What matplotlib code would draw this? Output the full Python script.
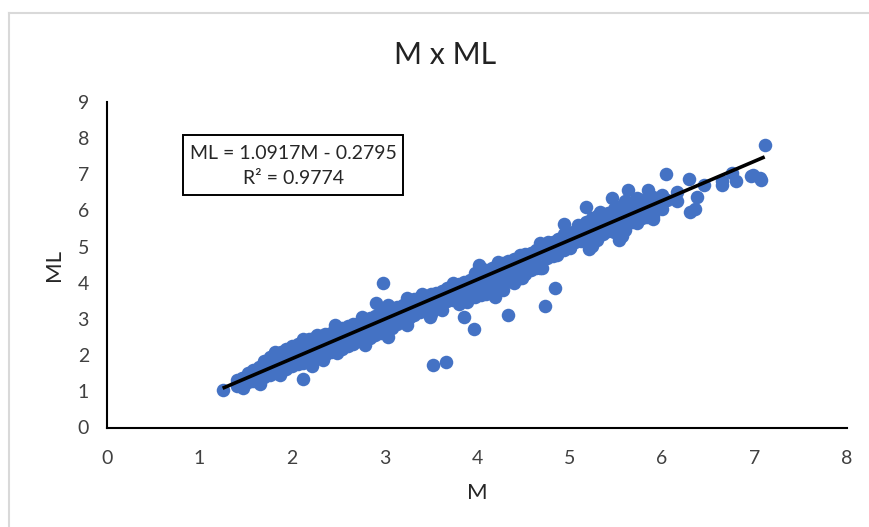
import matplotlib
matplotlib.use('Agg')
import matplotlib.pyplot as plt
from matplotlib.lines import Line2D
from matplotlib.patches import Rectangle

plt.rcParams['font.family'] = ['Lato', 'DejaVu Sans']

# Points
# lone points away from the main band
outlier_m = [1.25, 2.12, 2.98, 3.52, 3.67, 3.86, 3.97, 4.33, 4.73, 4.84, 6.04, 7.11]
outlier_ml = [1.04, 1.34, 3.99, 1.73, 1.81, 3.05, 2.72, 3.11, 3.36, 3.85, 7.00, 7.80]

# scattered points at the sparse top end
top_m = [5.18, 5.46, 5.63, 5.85, 6.00, 6.16, 6.16, 6.29, 6.30, 6.36, 6.38, 6.45, 6.65, 6.65,
         6.76, 6.80, 6.96, 6.98, 7.06, 7.07, 5.21, 5.54, 5.57, 5.90, 6.00, 4.94]
top_ml = [6.09, 6.34, 6.58, 6.58, 6.42, 6.50, 6.25, 6.86, 5.95, 6.03, 6.37, 6.70, 6.81, 6.70,
          7.03, 6.81, 6.95, 6.97, 6.89, 6.84, 4.93, 5.18, 5.29, 5.76, 6.03, 5.62]

# bumps on the upper and lower edge of the band
edge_m = [1.82, 2.12, 2.27, 2.46, 2.76, 2.91, 3.04, 3.24, 3.40, 3.74, 4.02, 4.23, 4.46, 4.68,
          4.77, 5.09, 5.33, 5.51, 5.73, 5.87,
          1.47, 1.65, 1.87, 2.22, 2.34, 2.49, 2.79, 3.04, 3.24, 3.49, 3.62, 3.89, 4.19, 4.28,
          4.49, 4.68, 4.87, 5.00, 5.30, 5.73]
edge_ml = [2.09, 2.44, 2.56, 2.83, 3.05, 3.44, 3.38, 3.57, 3.68, 3.99, 4.49, 4.57, 4.77, 5.10,
           5.12, 5.59, 5.95, 6.01, 6.34, 6.30,
           1.09, 1.20, 1.45, 1.70, 1.86, 2.06, 2.28, 2.50, 2.83, 3.05, 3.25, 3.47, 3.60, 3.80,
           4.13, 4.40, 4.76, 4.96, 5.18, 5.65]

# filler between the middle and the lower edge where the band is wide
fill_m = [3.00, 3.10, 3.20, 3.80, 3.90, 4.00, 4.08, 4.16, 4.24, 4.32, 4.40, 4.48, 4.56, 4.64,
          5.20, 5.28, 5.36, 5.44, 5.52, 5.60, 5.68, 5.76, 5.50, 5.60, 5.70, 5.80, 5.95, 6.05]
fill_ml = [2.75, 2.85, 3.00, 3.60, 3.72, 3.82, 3.90, 3.98, 4.08, 4.16, 4.24, 4.32, 4.42, 4.52,
           5.28, 5.35, 5.45, 5.50, 5.55, 5.62, 5.68, 5.78, 5.92, 6.08, 6.15, 6.20, 6.22, 6.30]

# band, shared M values for three rows
band_m = [1.40, 1.46, 1.52, 1.58, 1.64, 1.70, 1.76, 1.82, 1.88, 1.94, 2.00, 2.06, 2.12, 2.18,
          2.24, 2.30, 2.36, 2.42, 2.48, 2.54, 2.60, 2.66, 2.72, 2.78, 2.84, 2.90, 2.96, 3.02,
          3.08, 3.14, 3.20, 3.26, 3.32, 3.38, 3.44, 3.50, 3.56, 3.62, 3.68, 3.74, 3.80, 3.86,
          3.92, 3.98, 4.04, 4.10, 4.16, 4.22, 4.28, 4.34, 4.40, 4.46, 4.52, 4.58, 4.64, 4.70,
          4.76, 4.82, 4.88, 4.94, 5.00, 5.06, 5.12, 5.18, 5.24, 5.30, 5.36, 5.42, 5.48, 5.54,
          5.60, 5.66, 5.72, 5.78, 5.84, 5.90]
band_hi = [1.32, 1.38, 1.50, 1.58, 1.68, 1.85, 1.95, 2.05, 2.10, 2.18, 2.25, 2.30, 2.36, 2.44,
           2.48, 2.52, 2.58, 2.62, 2.68, 2.74, 2.80, 2.85, 2.90, 2.98, 3.04, 3.08, 3.20, 3.28,
           3.28, 3.34, 3.40, 3.48, 3.54, 3.60, 3.64, 3.68, 3.72, 3.78, 3.85, 3.92, 3.98, 4.02,
           4.08, 4.28, 4.40, 4.35, 4.42, 4.50, 4.55, 4.60, 4.66, 4.74, 4.80, 4.82, 4.90, 5.05,
           5.08, 5.12, 5.20, 5.35, 5.38, 5.44, 5.52, 5.68, 5.78, 5.85, 5.88, 5.92, 6.05, 6.10,
           6.25, 6.22, 6.30, 6.28, 6.35, 6.38]
band_mid = [1.24, 1.32, 1.38, 1.45, 1.50, 1.58, 1.65, 1.72, 1.78, 1.84, 1.90, 1.97, 2.03, 2.10,
            2.16, 2.23, 2.29, 2.36, 2.43, 2.49, 2.56, 2.62, 2.69, 2.75, 2.82, 2.88, 2.95, 3.01,
            3.08, 3.14, 3.21, 3.28, 3.34, 3.41, 3.47, 3.54, 3.60, 3.67, 3.73, 3.80, 3.87, 3.93,
            4.00, 4.06, 4.13, 4.19, 4.26, 4.32, 4.39, 4.45, 4.52, 4.59, 4.65, 4.72, 4.78, 4.85,
            4.91, 4.98, 5.04, 5.11, 5.17, 5.24, 5.31, 5.37, 5.44, 5.50, 5.57, 5.63, 5.70, 5.76,
            5.83, 5.90, 5.96, 6.03, 6.09, 6.16]
band_lo = [1.15, 1.20, 1.25, 1.28, 1.30, 1.40, 1.45, 1.50, 1.58, 1.62, 1.70, 1.75, 1.78, 1.82,
           1.90, 1.95, 2.00, 2.08, 2.12, 2.18, 2.25, 2.30, 2.38, 2.42, 2.48, 2.55, 2.60, 2.62,
           2.75, 2.85, 2.95, 3.02, 3.10, 3.18, 3.22, 3.15, 3.30, 3.42, 3.50, 3.52, 3.42, 3.58,
           3.70, 3.62, 3.65, 3.70, 3.78, 3.85, 3.95, 4.05, 4.00, 4.12, 4.25, 4.35, 4.42, 4.40,
           4.70, 4.75, 4.85, 4.92, 5.00, 5.12, 5.15, 5.20, 5.02, 5.28, 5.36, 5.42, 5.40, 5.32,
           5.45, 5.70, 5.75, 5.80, 5.82, 5.85]

x_ticks = [0, 1, 2, 3, 4, 5, 6, 7, 8]
y_ticks = [0, 1, 2, 3, 4, 5, 6, 7, 8, 9]

# trendline from the equation printed on the chart
slope = 1.0917
intercept = -0.2795
trend_m = [1.25, 7.11]
trend_ml = [slope * m + intercept for m in trend_m]

W, H = 869, 527
fig = plt.figure(figsize=(W / 100, H / 100), dpi=100)
ax = fig.add_axes([107 / W, 1 - 427.5 / H, 740 / W, 325.5 / H])

blue = '#4472c4'
all_m = outlier_m + top_m + edge_m + fill_m + band_m + band_m + band_m
all_ml = outlier_ml + top_ml + edge_ml + fill_ml + band_hi + band_mid + band_lo
ax.scatter(all_m, all_ml, s=95, color=blue, linewidths=0, zorder=2, clip_on=False)
ax.plot(trend_m, trend_ml, color='black', lw=2.6, zorder=3, solid_capstyle='butt')

ax.set_xlim(0, 8)
ax.set_ylim(0, 9)
ax.set_xticks(x_ticks)
ax.set_yticks(y_ticks)
ax.tick_params(length=0, labelsize=14, labelcolor='#404040')
ax.tick_params(axis='x', pad=16)
ax.tick_params(axis='y', pad=13)
for s in ['top', 'right']:
    ax.spines[s].set_visible(False)
for s in ['left', 'bottom']:
    ax.spines[s].set_linewidth(1.5)
    ax.spines[s].set_color('black')

ax.set_xlabel('M', fontsize=16, labelpad=12, color='#262626')
ax.set_ylabel('ML', fontsize=16, labelpad=10, color='#262626')
fig.text(445 / W, 1 - 55 / H, 'M x ML', fontsize=21.8, ha='center', va='center', color='#222222')

# equation label, box drawn in pixels of the figure
fig.add_artist(Rectangle((183 / W, 1 - 195 / H), 220 / W, 60 / H, transform=fig.transFigure,
                         facecolor='white', edgecolor='black', linewidth=1.4, zorder=5))
fig.text(293.5 / W, 1 - 166 / H, 'ML = 1.0917M - 0.2795\nR² = 0.9774', fontsize=14, ha='center',
         va='center', linespacing=1.55, color='#262626', zorder=6)

# grey chart frame, cut off on the right and bottom
fig.add_artist(Line2D([9 / W, 9 / W], [0, 1 - 13 / H], color='#d9d9d9', lw=1.5))
fig.add_artist(Line2D([9 / W, 1], [1 - 13 / H, 1 - 13 / H], color='#d9d9d9', lw=1.5))

fig.savefig('out.png', dpi=100)
